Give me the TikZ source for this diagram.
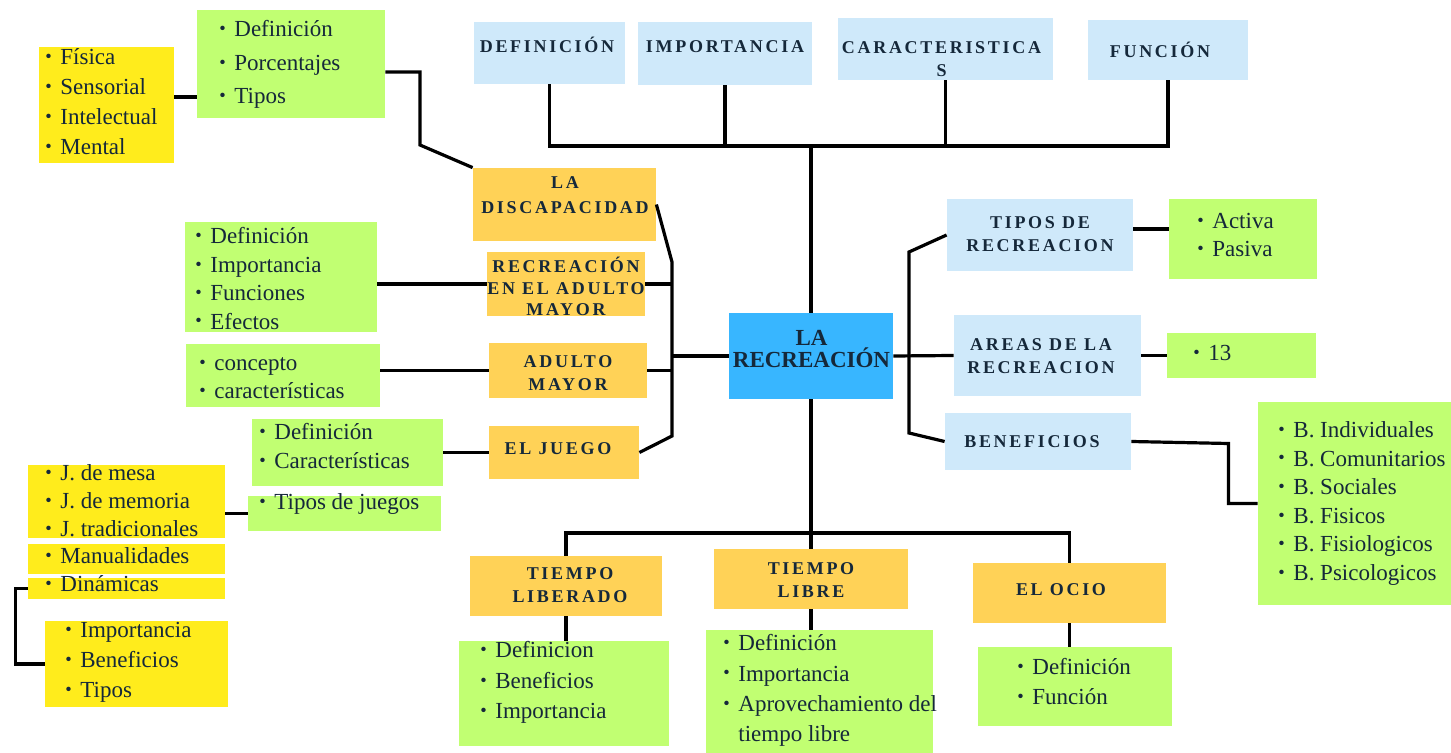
\documentclass[tikz,border=0pt]{standalone}
\usepackage{fontspec}
\setmainfont{Liberation Serif}
\newfontfamily\hdfont[LetterSpace=15]{Liberation Serif}
\usepackage{graphicx}

\definecolor{skyb}{HTML}{CFE9FA}
\definecolor{gold}{HTML}{FFD257}
\definecolor{lime}{HTML}{C1FF72}
\definecolor{yel}{HTML}{FFEC1C}
\definecolor{mainb}{HTML}{38B6FF}
\definecolor{ink}{HTML}{15283A}

\newcommand{\itm}{\makebox[7.5pt][l]{\raisebox{0.2ex}{\scalebox{0.8}{\textbullet}}}}

\begin{document}
\begin{tikzpicture}[
    x=0.5pt, y=-0.5pt,
    wh/.style 2 args = {minimum width=#1*0.5pt, minimum height=#2*0.5pt},
    box/.style   = {rectangle, inner sep=0pt, draw=none},
    skybox/.style  = {box, fill=skyb},
    goldbox/.style = {box, fill=gold},
    limebox/.style = {box, fill=lime},
    yelbox/.style  = {box, fill=yel},
    hd/.style    = {font=\hdfont\bfseries\fontsize{9}{11.5}\selectfont, text=ink, align=center, inner sep=0pt},
    lst/.style   = {font=\fontsize{11.5}{15}\selectfont, text=ink, align=left, inner sep=0pt, anchor=west},
    conn/.style  = {draw=black, line width=1.6pt},
]

\path[fill=white, use as bounding box] (0,0) rectangle (1451,753);

%% ---- Boxes ----

% top row
\node[skybox, wh={151}{62}] (defn) at (549.5,53)  {};
\node[skybox, wh={174}{63}] (impo) at (725,53.5)  {};
\node[skybox, wh={215}{62}] (cara) at (945.5,49)  {};
\node[skybox, wh={160}{60}] (func) at (1168,50)   {};

% centre
\node[box, fill=mainb, wh={164}{86}] (rec) at (811,356) {};

% left branch
\node[goldbox, wh={183}{73}] (disc) at (564.5,204.5) {};
\node[goldbox, wh={158}{64}] (rea)  at (566,284)     {};
\node[goldbox, wh={158}{55}] (adm)  at (568,370.5)   {};
\node[goldbox, wh={150}{53}] (jue)  at (564,452.5)   {};

\node[yelbox,  wh={135}{116}] (yfis) at (106.5,105)   {};
\node[limebox, wh={188}{108}] (gdis) at (291,64)      {};
\node[limebox, wh={192}{110}] (grea) at (281,277)     {};
\node[limebox, wh={194}{63}]  (gadm) at (283,375.5)   {};
\node[limebox, wh={191}{67}]  (gjue) at (347.5,452.5) {};
\node[limebox, wh={193}{35}]  (gtj)  at (344.5,513.5) {};
\node[yelbox,  wh={197}{73}]  (yjm)  at (126.5,501.5) {};
\node[yelbox,  wh={197}{30}]  (yman) at (126.5,559)   {};
\node[yelbox,  wh={197}{21}]  (ydin) at (126.5,588.5) {};
\node[yelbox,  wh={183}{86}]  (yimp) at (136.5,664)   {};

% bottom branch
\node[goldbox, wh={192}{60}]  (tlb)   at (566,586)      {};
\node[goldbox, wh={194}{60}]  (tl)    at (811,579)      {};
\node[goldbox, wh={193}{60}]  (ocio)  at (1069.5,593)   {};
\node[limebox, wh={210}{105}] (gtlb)  at (564,693.5)    {};
\node[limebox, wh={227}{123}] (gtl)   at (819.5,691.5)  {};
\node[limebox, wh={194}{79}]  (gocio) at (1075,686.5)   {};

% right branch
\node[skybox,  wh={186}{72}]  (tr)   at (1040,235)      {};
\node[skybox,  wh={187}{81}]  (ar)   at (1047.5,355.5)  {};
\node[skybox,  wh={186}{57}]  (ben)  at (1038,441.5)    {};
\node[limebox, wh={148}{80}]  (gtr)  at (1243,239)      {};
\node[limebox, wh={149}{45}]  (gar)  at (1241.5,355.5)  {};
\node[limebox, wh={193}{203}] (gben) at (1354.5,503.5)  {};

%% ---- Connectors ----

\coordinate (tb) at (811,146);
\draw[conn] (defn.south) |- (tb) -| (func.south);
\draw[conn] (impo.south) -- (impo.south |- tb);
\draw[conn] (cara.south) -- (cara.south |- tb);
\draw[conn] (tb) -- (rec.north);

\coordinate (lj1) at (672,262);
\coordinate (lj2) at (672,436);
\draw[conn] (disc.east) -- (lj1) -- (lj2) -- (jue.east);
\draw[conn] (rea.east) -- (rea.east -| lj1);
\draw[conn] (adm.east) -- (adm.east -| lj1);
\draw[conn] (rec.west) -- (rec.west -| lj1);
\draw[conn] (rea.west -| grea.east) -- (rea.west);
\draw[conn] (adm.west -| gadm.east) -- (adm.west);
\draw[conn] (gjue.east) -- (jue.west);
\draw[conn] ([yshift=4pt]yfis.east) -- ([yshift=4pt]yfis.east -| gdis.west);
\coordinate (gd) at (420,145);
\draw[conn] ([yshift=-4pt]gdis.east) -| (gd) -- (disc.north west);
\draw[conn] (gtj.west -| yjm.east) -- (gtj.west);
\draw[conn] (ydin.west) -- ++(-12,0) |- (yimp.west);

\coordinate (bb) at (811,533);
\draw[conn] (rec.south) -- (bb);
\draw[conn] (tlb.north) |- (bb) -| (ocio.north);
\draw[conn] (bb) -- (tl.north);
\draw[conn] (tlb.south) -- (tlb.south |- gtlb.north);
\draw[conn] (tl.south) -- (tl.south |- gtl.north);
\draw[conn] (ocio.south) -- (ocio.south |- gocio.north);

\coordinate (rj1) at (909,252);
\coordinate (rj2) at (909,433);
\draw[conn] (tr.west) -- (rj1) -- (rj2) -- (ben.west);
\draw[conn] (rec.east) -- (ar.west);
\draw[conn] ([yshift=3pt]tr.east) -- ([yshift=3pt]tr.east -| gtr.west);
\draw[conn] (ar.east) -- (gar.west);
\draw[conn] (ben.east) -- ++(97,2) |- (gben.west);

%% ---- Texts ----

\node[hd] (defn-t) at (547,45)    {DEFINICIÓN};
\node[hd] (impo-t) at (725,47)    {IMPORTANCIA};
\node[hd] (cara-t) at (941.5,59)  {CARACTERISTICA\\S};
\node[hd] (func-t) at (1160,50)   {FUNCIÓN};

\node[font=\bfseries\fontsize{11.5}{11}\selectfont, text=ink, align=center, inner sep=0pt]
    (rec-t) at (811.5,349) {LA\\RECREACIÓN};

\node[hd, font=\hdfont\bfseries\fontsize{9}{12.5}\selectfont]
          (disc-t) at (565,195.5) {LA\\DISCAPACIDAD};
\node[hd, font=\hdfont\bfseries\fontsize{9}{10.75}\selectfont]
          (rea-t)  at (566,286.5) {RECREACIÓN\\EN EL ADULTO\\MAYOR};
\node[hd] (adm-t)  at (568,373)   {ADULTO\\MAYOR};
\node[hd] (jue-t)  at (558,449)   {EL JUEGO};

\node[hd] (tlb-t)  at (570,585)   {TIEMPO\\LIBERADO};
\node[hd] (tl-t)   at (811,580)   {TIEMPO\\LIBRE};
\node[hd] (ocio-t) at (1061,590)  {EL OCIO};

\node[hd] (tr-t)   at (1040,234.5) {TIPOS DE\\RECREACION};
\node[hd] (ar-t)   at (1041,356.5) {AREAS DE LA\\RECREACION};
\node[hd] (ben-t)  at (1032,442)   {BENEFICIOS};

\node[lst] (yfis-t) at (45,102)     {\itm Física\\\itm Sensorial\\\itm Intelectual\\\itm Mental};
\node[lst, font=\fontsize{11.5}{16.75}\selectfont]
           (gdis-t) at (219,64.5)   {\itm Definición\\\itm Porcentajes\\\itm Tipos};
\node[lst, font=\fontsize{11.5}{14.2}\selectfont]
           (grea-t) at (195,278.5)  {\itm Definición\\\itm Importancia\\\itm Funciones\\\itm Efectos};
\node[lst, font=\fontsize{11.5}{14}\selectfont]
           (gadm-t) at (199,378)    {\itm concepto\\\itm características};
\node[lst, font=\fontsize{11.5}{14.5}\selectfont]
           (gjue-t) at (259,446.5)  {\itm Definición\\\itm Características};
\node[lst] (gtj-t)  at (259,504)    {\itm Tipos de juegos};
\node[lst, font=\fontsize{11.5}{14}\selectfont]
           (yjm-t)  at (45,501)     {\itm J. de mesa\\\itm J. de memoria\\\itm J. tradicionales};
\node[lst] (yman-t) at (45,556)     {\itm Manualidades};
\node[lst] (ydin-t) at (45,584)     {\itm Dinámicas};
\node[lst] (yimp-t) at (65,662)     {\itm Importancia\\\itm Beneficios\\\itm Tipos};

\node[lst, font=\fontsize{11.5}{15.25}\selectfont]
           (gtlb-t)  at (480,682.5) {\itm Definicion\\\itm Beneficios\\\itm Importancia};
\node[lst, font=\fontsize{11.5}{15.15}\selectfont]
           (gtl-t)   at (723,690.5) {\itm Definición\\\itm Importancia\\\itm Aprovechamiento del\\\hspace*{7.5pt}tiempo libre};
\node[lst] (gocio-t) at (1017,682)  {\itm Definición\\\itm Función};

\node[lst, font=\fontsize{11.5}{14}\selectfont]
           (gtr-t)  at (1197,235)   {\itm Activa\\\itm Pasiva};
\node[lst] (gar-t)  at (1193,353)   {\itm 13};
\node[lst, font=\fontsize{11.5}{14.3}\selectfont]
           (gben-t) at (1278,503.5) {\itm B. Individuales\\\itm B. Comunitarios\\\itm B. Sociales\\\itm B. Fisicos\\\itm B. Fisiologicos\\\itm B. Psicologicos};

\end{tikzpicture}
\end{document}
